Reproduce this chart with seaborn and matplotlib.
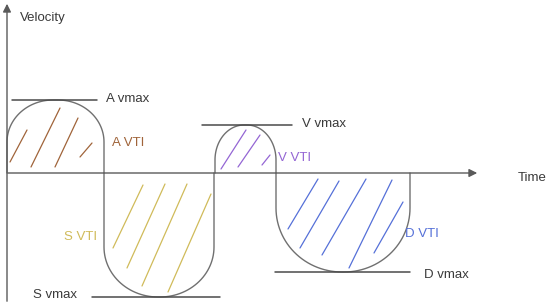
import numpy as np
import pandas as pd
import seaborn as sns
import matplotlib.pyplot as plt

# waves: start / end time, peak velocity (+ above, - below), corner radii
wave_names = ['A', 'S', 'V', 'D']
wave_start = [7, 104, 215, 276]
wave_end = [104, 214, 276, 410]
wave_peak = [73, -124, 48, -99]
wave_rx = [46, 54, 29, 66]
wave_ry = [42, 50, 35, 64]
wave_colors = ['#a0643a', '#d0bb5a', '#9466d4', '#5570d8']

# vmax marker lines (start, end)
vmax_x0 = [12, 92, 202, 275]
vmax_x1 = [97, 220, 292, 410]

# hatch strokes per wave: (x0, y0, x1, y1) in chart units
hatch = {
    'A': [(10, 11, 27, 43), (31, 6, 60, 65), (55, 6, 78, 55), (80, 16, 92, 30)],
    'S': [(113, -75, 143, -12), (127, -95, 165, -11), (142, -113, 187, -11), (168, -119, 211, -21)],
    'V': [(221, 4, 246, 43), (238, 6, 260, 38), (262, 8, 270, 18)],
    'D': [(288, -56, 318, -6), (300, -75, 339, -8), (322, -82, 366, -6), (349, -95, 392, -7), (374, -80, 403, -29)],
}

vti_pos = [(112, 30), (64, -64), (278, 15), (405, -61)]
vmax_lbl = [(106, 74), (33, -122), (302, 49), (424, -102)]


def wave_outline(x0, x1, h, rx, ry):
    s = np.sign(h)
    a = np.linspace(0, np.pi / 2, 30)
    xs = [x0]
    ys = [0]
    # left corner
    xs += list(x0 + rx - rx * np.cos(a))
    ys += list(h - s * ry + s * ry * np.sin(a))
    # right corner
    xs += list(x1 - rx + rx * np.sin(a))
    ys += list(h - s * ry + s * ry * np.cos(a))
    xs.append(x1)
    ys.append(0)
    return xs, ys


rows = []
for i, n in enumerate(wave_names):
    xs, ys = wave_outline(wave_start[i], wave_end[i], wave_peak[i], wave_rx[i], wave_ry[i])
    for x, y in zip(xs, ys):
        rows.append({'wave': n, 't': x, 'v': y})
outline = pd.DataFrame(rows)

sns.set_style('white')
plt.rcParams['font.family'] = ['Liberation Sans', 'DejaVu Sans']

fig = plt.figure(figsize=(5.5, 3.04), dpi=100)
ax = fig.add_axes([0, 0, 1, 1])
ax.set_xlim(0, 550)
ax.set_ylim(-131, 173)
ax.axis('off')

sns.lineplot(data=outline, x='t', y='v', units='wave', estimator=None, sort=False,
             color='#707070', linewidth=1.0, ax=ax)

for i, n in enumerate(wave_names):
    for (x0, y0, x1, y1) in hatch[n]:
        ax.plot([x0, x1], [y0, y1], color=wave_colors[i], lw=0.9)
    ax.plot([vmax_x0[i], vmax_x1[i]], [wave_peak[i], wave_peak[i]], color='#4a4a4a', lw=1.1)
    ax.text(vti_pos[i][0], vti_pos[i][1], n + ' VTI', color=wave_colors[i],
            fontsize=9.5, va='center', ha='left')
    ax.text(vmax_lbl[i][0], vmax_lbl[i][1], n + ' vmax', color='#3a3a3a',
            fontsize=9.5, va='center', ha='left')

# axes arrows
ax.annotate('', xy=(480, 0), xytext=(5, 0),
            arrowprops=dict(arrowstyle='-|>', color='#5a5a5a', lw=1.0, mutation_scale=12))
ax.annotate('', xy=(7, 172), xytext=(7, -131),
            arrowprops=dict(arrowstyle='-|>', color='#5a5a5a', lw=1.0, mutation_scale=12))
ax.text(20, 155, 'Velocity', fontsize=9.5, color='#3a3a3a', va='center')
ax.text(518, -5, 'Time', fontsize=9.5, color='#3a3a3a', va='center')

fig.savefig('out.png', dpi=100)
